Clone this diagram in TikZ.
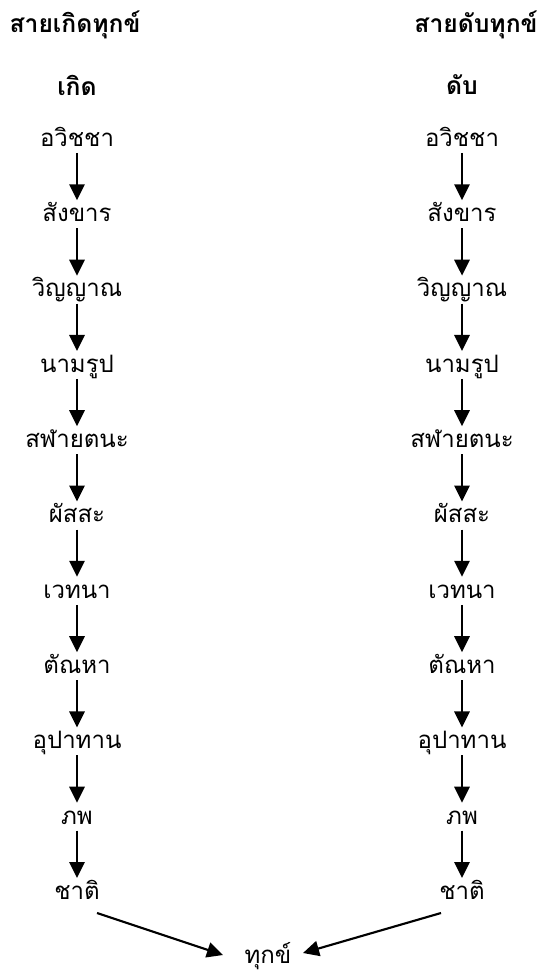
\documentclass[tikz,border=0pt]{standalone}
\usepackage{fontspec}
\setmainfont[Script=Thai]{Loma}
\usetikzlibrary{arrows.meta, positioning}

\begin{document}
\begin{tikzpicture}[x=0.75pt, y=-0.75pt,
		step name/.style={font=\fontsize{18}{21}\selectfont, inner sep=0pt, text height=11pt, text depth=3pt},
		head name/.style={font=\bfseries\fontsize{18.5}{21}\selectfont, inner sep=0pt},
		arr/.style={-{Triangle[length=12pt, width=11.5pt]}, line width=1.6pt}]
	\useasboundingbox (0,0) rectangle (539,973);
	% titles
	\node[head name] (titleL) at (75,25) {สายเกิดทุกข์};
	\node[head name] (titleR) at (476,25) {สายดับทุกข์};
	\node[head name] (headL) at (77,85) {เกิด};
	\node[head name] (headR) at (462,85) {ดับ};
	% the two chains
	\foreach \t [count=\i] in {อวิชชา, สังขาร, วิญญาณ, นามรูป, สฬายตนะ, ผัสสะ, เวทนา, ตัณหา, อุปาทาน, ภพ, ชาติ} {
		\node[step name] (L\i) at (77,{141+75.3*(\i-1)}) {\t};
		\node[step name] (R\i) at (462,{141+75.3*(\i-1)}) {\t};
	}
	\foreach \i [evaluate=\i as \j using int(\i+1)] in {1,...,10} {
		\draw[arr] ([shift={(0,12)}]L\i.center) -- ([shift={(0,-16)}]L\j.center);
		\draw[arr] ([shift={(0,12)}]R\i.center) -- ([shift={(0,-16)}]R\j.center);
	}
	% end
	\node[step name] (dukkha) at (268,958) {ทุกข์};
	\draw[arr] ([shift={(20,19)}]L11.center) -- ([shift={(-45,-3)}]dukkha.center);
	\draw[arr] ([shift={(-21,19)}]R11.center) -- ([shift={(35,-5)}]dukkha.center);
\end{tikzpicture}
\end{document}
